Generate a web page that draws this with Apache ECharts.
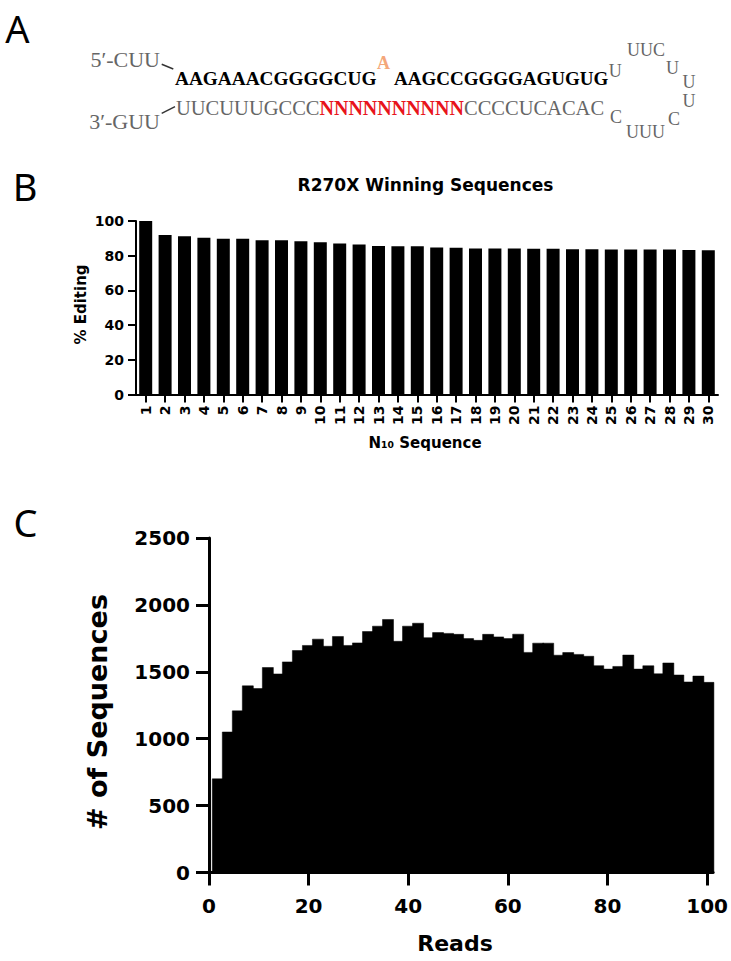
<!DOCTYPE html>
<html><head><meta charset="utf-8">
<script src="https://cdn.jsdelivr.net/npm/echarts@6/dist/echarts.min.js"></script>
<style>html,body{margin:0;padding:0;background:#fff}#c{width:731px;height:961px}</style>
</head><body><div id="c"></div>
<script>
// ---------- Panel B data ----------
const seqCategories = ['1','2','3','4','5','6','7','8','9','10','11','12','13','14','15','16','17','18','19','20','21','22','23','24','25','26','27','28','29','30'];
const editingPercent = [100, 91.9, 91.2, 90.4, 89.8, 89.8, 88.9, 88.9, 88.3, 87.7, 87.1, 86.5, 85.6, 85.4, 85.4, 84.7, 84.6, 84.1, 84.1, 84.1, 84.0, 84.0, 83.7, 83.7, 83.6, 83.6, 83.6, 83.6, 83.3, 83.2];
const editingTicks = [0, 20, 40, 60, 80, 100];

// ---------- Panel C data ----------
const readBinStart = 0.66;
const readBinWidth = 2.01;
const sequenceCounts = [700, 1050, 1208, 1395, 1375, 1532, 1484, 1574, 1659, 1697,
  1744, 1691, 1764, 1697, 1716, 1801, 1841, 1891, 1728, 1841,
  1863, 1755, 1793, 1787, 1780, 1748, 1735, 1780, 1761, 1748,
  1781, 1645, 1714, 1714, 1624, 1644, 1630, 1616, 1546, 1520,
  1540, 1625, 1520, 1545, 1485, 1566, 1476, 1424, 1468, 1421];
const readTicks = [0, 20, 40, 60, 80, 100];
const countTicks = [0, 500, 1000, 1500, 2000, 2500];

// ---------- Panel A text ----------
const strand5Label = '5′-CUU';
const strand3Label = '3′-GUU';
const topLeft = 'AAGAAACGGGGCUG';
const editedBase = 'A';
const topRight = 'AAGCCGGGGAGUGUG';
const bottomLeft = 'UUCUUUGCCC';
const randomRegion = 'NNNNNNNNNN';
const bottomRight = 'CCCCUCACAC';

const SANS = 'DejaVu Sans';
const SERIF = 'Liberation Serif';
const GRAY = '#666666';

const chart = echarts.init(document.getElementById('c'), null, {renderer: 'svg'});

function txt(text, x, y, o) {
  return Object.assign({
    type: 'text', x: x, y: y, silent: true,
    style: Object.assign({text: text, fill: '#000', align: 'left', verticalAlign: 'middle',
      fontFamily: SERIF, fontSize: 20}, o.style || {})
  }, o.el || {});
}
const loopStyle = {fill: GRAY, fontSize: 18, align: 'center'};

const graphics = [
  // panel letters
  txt('A', 17.5, 27.5, {style: {fontFamily: 'Noto Sans', fontSize: 38, align: 'center'}}),
  txt('B', 25, 186, {style: {fontFamily: 'Noto Sans', fontSize: 38, align: 'center'}}),
  txt('C', 25.5, 522, {style: {fontFamily: 'Noto Sans', fontSize: 38, align: 'center'}}),
  // panel A sequence diagram
  txt(strand5Label, 160, 59.5, {style: {fill: GRAY, fontSize: 22, align: 'right'}}),
  txt(strand3Label, 160, 121.7, {style: {fill: GRAY, fontSize: 22, align: 'right'}}),
  txt(topLeft, 175, 78.5, {style: {fontWeight: 'bold', fontSize: 19.3}}),
  txt(editedBase, 383.5, 62.5, {style: {fontWeight: 'bold', fontSize: 18, fill: '#F4A77A', align: 'center'}}),
  txt(topRight, 394, 78.5, {style: {fontWeight: 'bold', fontSize: 19}}),
  {
    type: 'text', x: 176, y: 108.3, silent: true,
    style: {
      text: '{g|' + bottomLeft + '}{r|' + randomRegion + '}{g|' + bottomRight + '}',
      verticalAlign: 'middle', align: 'left',
      rich: {
        g: {fontFamily: SERIF, fontSize: 20.5, fill: GRAY, color: GRAY},
        r: {fontFamily: SERIF, fontSize: 20, fontWeight: 'bold', fill: '#E8141B', color: '#E8141B'}
      }
    }
  },
  txt('U', 615.3, 70.8, {style: loopStyle}),
  txt('UUC', 646, 50, {style: loopStyle}),
  txt('U', 672.5, 68, {style: loopStyle}),
  txt('U', 689, 82, {style: loopStyle}),
  txt('U', 689, 100.5, {style: loopStyle}),
  txt('C', 674, 118.8, {style: loopStyle}),
  txt('UUU', 645.5, 131.7, {style: loopStyle}),
  txt('C', 616, 116.7, {style: loopStyle}),
  {type: 'line', silent: true, shape: {x1: 161.7, y1: 64.3, x2: 173.3, y2: 69}, style: {stroke: '#333', lineWidth: 1.5}},
  {type: 'line', silent: true, shape: {x1: 161.7, y1: 113.3, x2: 175, y2: 106.7}, style: {stroke: '#333', lineWidth: 1.5}},
  // panel B texts
  txt('R270X Winning Sequences', 425.5, 185, {style: {fontFamily: SANS, fontWeight: 'bold', fontSize: 17, align: 'center'}}),
  txt('% Editing', 80.7, 304.5, {el: {rotation: Math.PI / 2}, style: {fontFamily: SANS, fontWeight: 'bold', fontSize: 15, align: 'center'}}),
  txt('N₁₀ Sequence', 425, 442.7, {style: {fontFamily: SANS, fontWeight: 'bold', fontSize: 15, align: 'center'}}),
  // panel C texts
  txt('# of Sequences', 97, 712, {el: {rotation: Math.PI / 2}, style: {fontFamily: SANS, fontWeight: 'bold', fontSize: 27, align: 'center'}}),
  txt('Reads', 455, 943, {style: {fontFamily: SANS, fontWeight: 'bold', fontSize: 22, align: 'center'}})
];

const plain = function (v) { return String(v); };

const option = {
  backgroundColor: '#fff',
  animation: false,
  grid: [
    {left: 136, top: 221, width: 582, height: 173.5, containLabel: false},
    {left: 209, top: 538, width: 507.5, height: 334.5, containLabel: false}
  ],
  xAxis: [
    {
      type: 'category', gridIndex: 0, data: seqCategories,
      axisLine: {show: true, lineStyle: {color: '#000', width: 2}},
      axisTick: {show: true, alignWithLabel: true, length: 8, lineStyle: {color: '#000', width: 2}},
      axisLabel: {rotate: 90, margin: 11, color: '#000', fontFamily: SANS, fontWeight: 'bold', fontSize: 14, interval: 0},
      splitLine: {show: false}
    },
    {
      type: 'value', gridIndex: 1, min: 0, max: 101.2, interval: 20,
      axisLine: {show: true, onZero: false, lineStyle: {color: '#000', width: 3}},
      axisTick: {show: true, length: 13, customValues: readTicks, lineStyle: {color: '#000', width: 3}},
      axisLabel: {margin: 23, customValues: readTicks, formatter: plain, color: '#000', fontFamily: SANS, fontWeight: 'bold', fontSize: 20},
      splitLine: {show: false}
    }
  ],
  yAxis: [
    {
      type: 'value', gridIndex: 0, min: 0, max: 100, interval: 20,
      axisLine: {show: true, lineStyle: {color: '#000', width: 2}},
      axisTick: {show: true, length: 8, lineStyle: {color: '#000', width: 2}},
      axisLabel: {margin: 12, color: '#000', fontFamily: SANS, fontWeight: 'bold', fontSize: 14},
      splitLine: {show: false}
    },
    {
      type: 'value', gridIndex: 1, min: 0, max: 2500, interval: 500,
      axisLine: {show: true, lineStyle: {color: '#000', width: 3}},
      axisTick: {show: true, length: 13, lineStyle: {color: '#000', width: 3}},
      axisLabel: {margin: 19, formatter: plain, color: '#000', fontFamily: SANS, fontWeight: 'bold', fontSize: 20},
      splitLine: {show: false}
    }
  ],
  series: [
    {
      type: 'bar', xAxisIndex: 0, yAxisIndex: 0, data: editingPercent,
      barCategoryGap: '33%', itemStyle: {color: '#000'}, silent: true
    },
    {
      type: 'custom', xAxisIndex: 1, yAxisIndex: 1, silent: true,
      data: sequenceCounts.map(function (v, i) {
        return [readBinStart + i * readBinWidth, readBinStart + (i + 1) * readBinWidth, v];
      }),
      encode: {x: [0, 1], y: 2},
      renderItem: function (params, api) {
        const p0 = api.coord([api.value(0), 0]);
        const p1 = api.coord([api.value(1), api.value(2)]);
        return {
          type: 'rect',
          shape: {x: p0[0], y: p1[1], width: p1[0] - p0[0] + 1, height: p0[1] - p1[1]},
          style: {fill: '#000', stroke: '#000', lineWidth: 0.5}
        };
      }
    }
  ],
  graphic: graphics
};
chart.setOption(option);
</script>
</body></html>
